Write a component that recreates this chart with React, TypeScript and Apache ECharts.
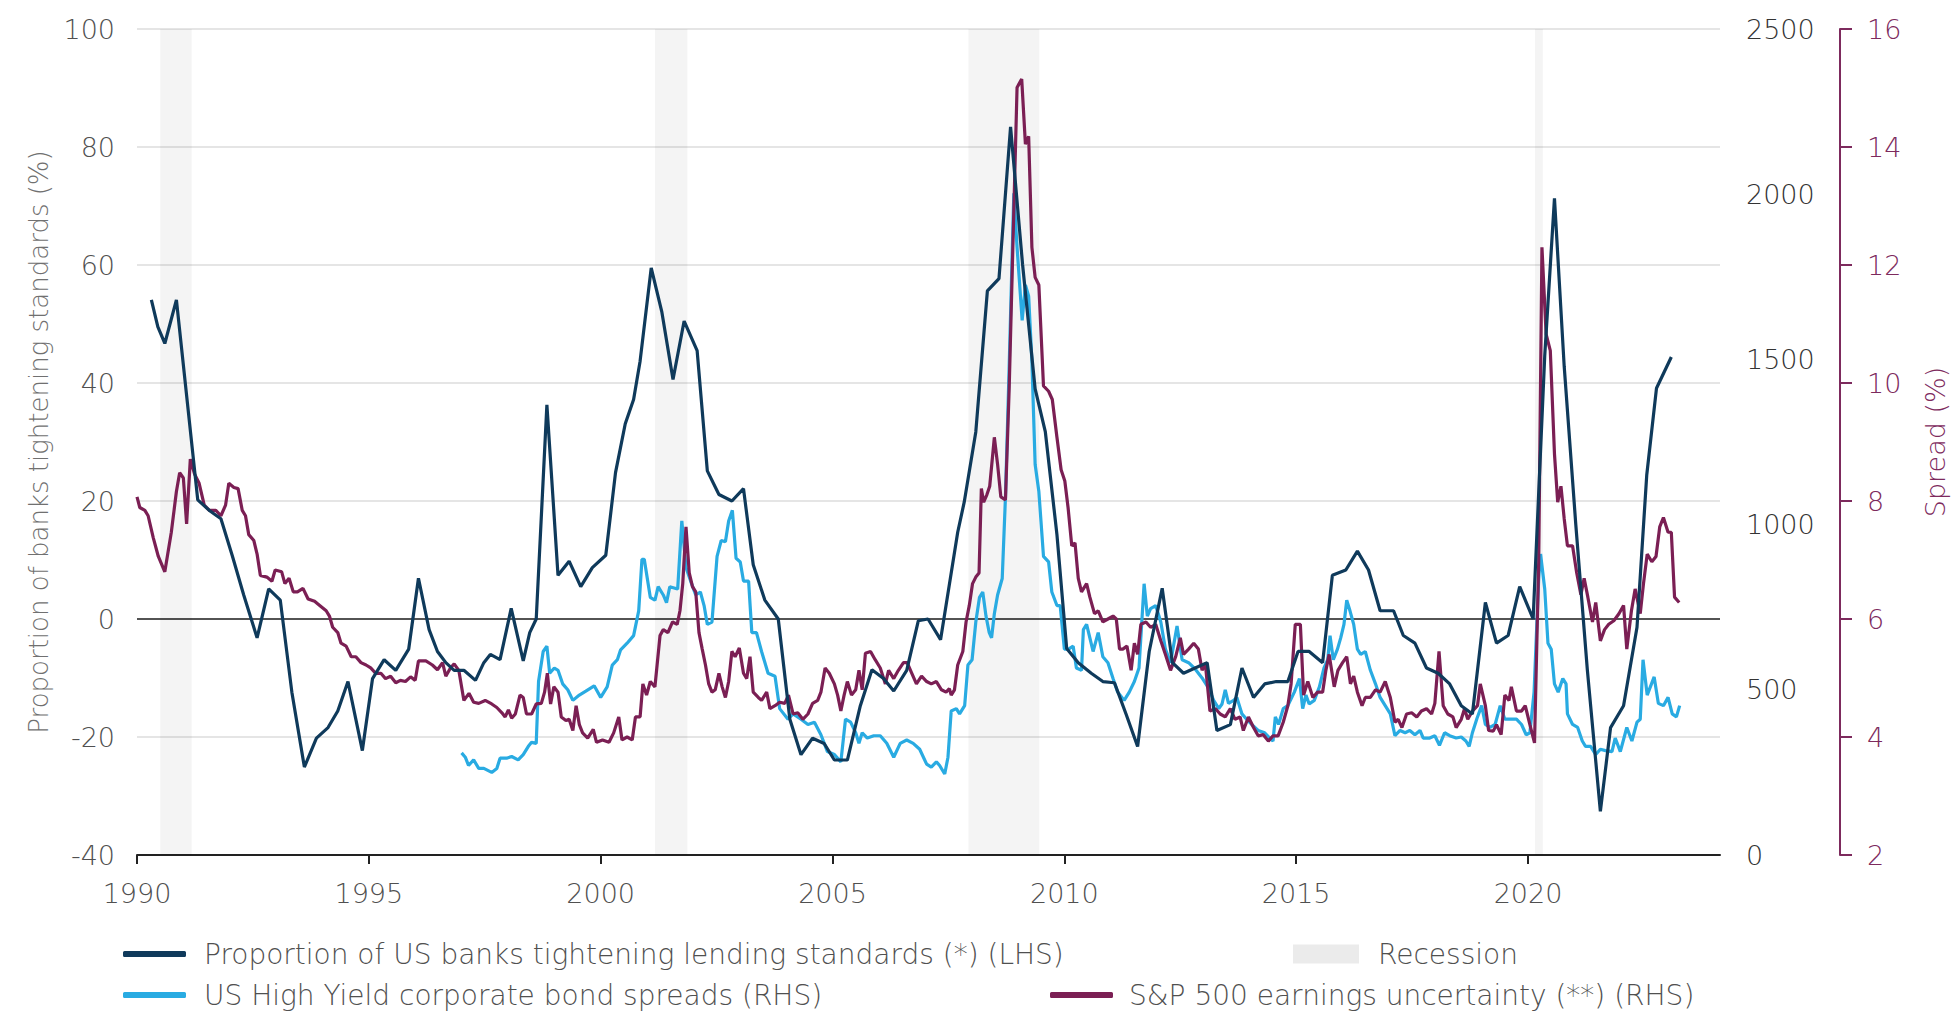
import React, { useEffect, useRef } from "react";
import * as echarts from "echarts";

const FONT = "'DejaVu Sans', 'Open Sans', sans-serif";

const xTicks = [1990, 1995, 2000, 2005, 2010, 2015, 2020];

const recessions: [number, number][] = [
  [1990.5, 1991.18],
  [2001.17, 2001.87],
  [2007.93, 2009.46],
  [2020.15, 2020.32],
];

// Proportion of US banks tightening lending standards (%), [year, value]
const bankPoints: [number, number][] = [
  [1990.31, 54.1], [1990.45, 49.5], [1990.6, 46.7], [1990.85, 54.1], [1991.31, 20.2], [1991.56, 18.4],
  [1991.81, 17.0], [1992.06, 10.6], [1992.3, 4.1], [1992.59, -3.2], [1992.84, 5.1], [1993.09, 3.2],
  [1993.34, -12.4], [1993.61, -25.1], [1993.87, -20.2], [1994.12, -18.4], [1994.33, -15.6], [1994.55, -10.6],
  [1994.86, -22.3], [1995.08, -10.1], [1995.33, -6.9], [1995.58, -8.7], [1995.86, -5.1], [1996.07, 6.9],
  [1996.3, -1.8], [1996.48, -5.5], [1996.66, -7.4], [1996.84, -8.7], [1997.05, -8.7], [1997.3, -10.4],
  [1997.48, -7.4], [1997.62, -6.0], [1997.83, -6.9], [1998.07, 1.8], [1998.33, -7.1], [1998.47, -2.3],
  [1998.61, 0], [1998.84, 36.3], [1999.08, 7.4], [1999.32, 9.8], [1999.57, 5.5], [1999.82, 8.7],
  [2000.11, 10.8], [2000.32, 24.8], [2000.53, 33.1], [2000.71, 37.2], [2000.85, 43.7], [2001.09, 59.5],
  [2001.32, 52.0], [2001.56, 40.6], [2001.8, 50.5], [2002.08, 45.5], [2002.3, 25.1], [2002.55, 21.1],
  [2002.83, 20.0], [2003.08, 22.1], [2003.29, 9.2], [2003.54, 3.2], [2003.83, 0], [2004.08, -17],
  [2004.32, -23], [2004.57, -20.2], [2004.82, -21.1], [2005.04, -23.9], [2005.32, -23.9], [2005.6, -14.7],
  [2005.85, -8.6], [2006.1, -10.1], [2006.32, -12.2], [2006.6, -8.7], [2006.85, -0.3], [2007.06, 0],
  [2007.33, -3.5], [2007.7, 14.7], [2007.84, 19.8], [2008.09, 31.7], [2008.34, 55.6], [2008.59, 57.7],
  [2008.84, 83.4], [2009.1, 60], [2009.37, 39], [2009.59, 31.7], [2009.84, 14.3], [2010.05, -5],
  [2010.3, -7.4], [2010.58, -9.2], [2010.83, -10.6], [2011.08, -10.8], [2011.33, -16.1], [2011.58, -21.6],
  [2011.83, -5.5], [2012.11, 5.2], [2012.33, -7.4], [2012.57, -9.2], [2012.82, -8.3], [2013.08, -7.4],
  [2013.29, -18.9], [2013.58, -17.9], [2013.83, -8.3], [2014.08, -13.3], [2014.32, -11], [2014.57, -10.6],
  [2014.82, -10.6], [2015.04, -5.5], [2015.28, -5.5], [2015.57, -7.4], [2015.78, 7.4], [2016.07, 8.3],
  [2016.32, 11.5], [2016.56, 8.3], [2016.81, 1.4], [2017.1, 1.4], [2017.31, -2.8], [2017.56, -4.1],
  [2017.81, -8.3], [2018.06, -9.2], [2018.31, -11], [2018.56, -14.7], [2018.8, -16.1], [2019.08, 2.8],
  [2019.32, -4.1], [2019.57, -2.8], [2019.82, 5.5], [2020.11, 0], [2020.36, 44.6], [2020.57, 71.3],
  [2020.78, 42.8], [2021.03, 16], [2021.28, -8.7], [2021.56, -32.6], [2021.78, -18.4], [2022.06, -14.7],
  [2022.35, -1.4], [2022.56, 24.4], [2022.77, 39.1], [2023.09, 44.4],
];

// US High Yield corporate bond spreads (bps), [year, value]
const hyPoints: [number, number][] = [
  [1997.0, 309], [1997.08, 296], [1997.15, 271], [1997.26, 288], [1997.37, 262], [1997.48, 262],
  [1997.65, 250], [1997.76, 262], [1997.83, 293], [1997.97, 293], [1998.08, 298], [1998.22, 288],
  [1998.33, 304], [1998.44, 329], [1998.51, 341], [1998.61, 338], [1998.66, 525], [1998.76, 616],
  [1998.84, 632], [1998.9, 550], [1999.0, 566], [1999.08, 559], [1999.18, 518], [1999.29, 500],
  [1999.4, 468], [1999.54, 484], [1999.68, 496], [1999.86, 512], [2000.0, 477], [2000.14, 509],
  [2000.25, 575], [2000.36, 591], [2000.43, 621], [2000.57, 641], [2000.71, 664], [2000.82, 739],
  [2000.89, 895], [2000.94, 895], [2001.07, 780], [2001.17, 771], [2001.24, 812], [2001.35, 787],
  [2001.42, 764], [2001.49, 812], [2001.66, 805], [2001.75, 1011], [2001.84, 870], [2001.94, 829],
  [2002.05, 787], [2002.15, 796], [2002.23, 755], [2002.3, 698], [2002.4, 705], [2002.51, 904],
  [2002.6, 952], [2002.69, 948], [2002.76, 1011], [2002.84, 1043], [2002.92, 898], [2003.01, 887],
  [2003.08, 829], [2003.19, 829], [2003.26, 673], [2003.36, 673], [2003.47, 616], [2003.61, 550],
  [2003.76, 541], [2003.86, 443], [2004.04, 411], [2004.15, 427], [2004.32, 411], [2004.47, 395],
  [2004.61, 402], [2004.75, 364], [2004.89, 313], [2005.04, 304], [2005.18, 282], [2005.28, 411],
  [2005.39, 402], [2005.5, 370], [2005.57, 338], [2005.64, 370], [2005.75, 354], [2005.89, 361],
  [2006.03, 361], [2006.17, 338], [2006.32, 296], [2006.46, 338], [2006.6, 348], [2006.74, 338],
  [2006.88, 320], [2007.03, 275], [2007.13, 266], [2007.24, 282], [2007.31, 271], [2007.42, 245],
  [2007.49, 296], [2007.56, 436], [2007.67, 443], [2007.74, 427], [2007.85, 452], [2007.92, 575],
  [2008.01, 591], [2008.09, 705], [2008.17, 780], [2008.24, 796], [2008.31, 723], [2008.38, 673],
  [2008.43, 657], [2008.49, 730], [2008.56, 787], [2008.66, 837], [2008.73, 1084], [2008.81, 1479],
  [2008.91, 2003], [2008.98, 1839], [2009.09, 1618], [2009.16, 1725], [2009.23, 1691], [2009.3, 1495],
  [2009.37, 1182], [2009.45, 1100], [2009.55, 904], [2009.66, 887], [2009.73, 796], [2009.84, 755],
  [2009.91, 755], [2010.0, 623], [2010.09, 623], [2010.19, 632], [2010.26, 566], [2010.37, 559],
  [2010.41, 682], [2010.48, 698], [2010.55, 657], [2010.62, 616], [2010.73, 673], [2010.83, 600],
  [2010.94, 582], [2011.05, 534], [2011.15, 493], [2011.29, 468], [2011.4, 493], [2011.51, 525],
  [2011.61, 566], [2011.72, 821], [2011.79, 723], [2011.86, 746], [2011.97, 755], [2012.08, 705],
  [2012.18, 623], [2012.29, 582], [2012.43, 693], [2012.54, 591], [2012.68, 582], [2012.82, 563],
  [2012.97, 536], [2013.11, 505], [2013.22, 468], [2013.33, 443], [2013.4, 457], [2013.47, 500],
  [2013.54, 459], [2013.65, 468], [2013.72, 477], [2013.83, 427], [2013.93, 411], [2014.04, 395],
  [2014.18, 377], [2014.32, 370], [2014.43, 354], [2014.5, 345], [2014.55, 418], [2014.62, 395],
  [2014.72, 443], [2014.82, 452], [2014.96, 493], [2015.07, 534], [2015.14, 443], [2015.21, 484],
  [2015.28, 457], [2015.39, 468], [2015.5, 509], [2015.6, 566], [2015.68, 591], [2015.73, 664],
  [2015.8, 591], [2015.89, 623], [2015.96, 657], [2016.03, 698], [2016.09, 771], [2016.16, 739],
  [2016.24, 698], [2016.32, 623], [2016.39, 607], [2016.49, 616], [2016.6, 559], [2016.71, 518],
  [2016.81, 477], [2016.92, 452], [2017.03, 427], [2017.13, 361], [2017.24, 377], [2017.35, 370],
  [2017.45, 377], [2017.56, 364], [2017.67, 377], [2017.74, 354], [2017.88, 354], [2017.99, 361],
  [2018.09, 332], [2018.2, 370], [2018.31, 361], [2018.45, 354], [2018.56, 357], [2018.66, 345],
  [2018.73, 329], [2018.8, 370], [2018.9, 414], [2019.0, 452], [2019.08, 395], [2019.18, 386],
  [2019.29, 395], [2019.4, 452], [2019.5, 411], [2019.61, 411], [2019.75, 411], [2019.86, 395],
  [2019.96, 364], [2020.04, 370], [2020.13, 493], [2020.23, 837], [2020.27, 911], [2020.36, 805],
  [2020.43, 641], [2020.5, 623], [2020.57, 518], [2020.65, 493], [2020.75, 534], [2020.82, 518],
  [2020.85, 427], [2020.96, 395], [2021.07, 386], [2021.17, 345], [2021.24, 329], [2021.35, 329],
  [2021.46, 304], [2021.56, 320], [2021.67, 316], [2021.81, 313], [2021.88, 354], [2021.99, 313],
  [2022.13, 386], [2022.24, 345], [2022.35, 402], [2022.42, 411], [2022.48, 591], [2022.57, 484],
  [2022.72, 539], [2022.81, 459], [2022.92, 452], [2023.02, 477], [2023.11, 427], [2023.2, 418],
  [2023.27, 452],
];

// S&P 500 earnings uncertainty (%), [year, value]
const spxPoints: [number, number][] = [
  [1990.0, 8.07], [1990.06, 7.89], [1990.17, 7.84], [1990.24, 7.75], [1990.35, 7.38], [1990.46, 7.06],
  [1990.6, 6.8], [1990.74, 7.47], [1990.85, 8.16], [1990.92, 8.48], [1991.0, 8.39], [1991.07, 7.61],
  [1991.15, 8.71], [1991.24, 8.46], [1991.34, 8.3], [1991.45, 7.93], [1991.56, 7.84], [1991.7, 7.84],
  [1991.81, 7.75], [1991.91, 7.93], [1991.98, 8.3], [1992.09, 8.23], [1992.18, 8.21], [1992.27, 7.84],
  [1992.34, 7.75], [1992.41, 7.43], [1992.52, 7.33], [1992.59, 7.1], [1992.66, 6.74], [1992.8, 6.71],
  [1992.91, 6.64], [1992.98, 6.83], [1993.12, 6.8], [1993.19, 6.6], [1993.28, 6.69], [1993.37, 6.46],
  [1993.46, 6.46], [1993.58, 6.52], [1993.69, 6.34], [1993.83, 6.3], [1993.94, 6.23], [1994.08, 6.14],
  [1994.15, 6.05], [1994.22, 5.86], [1994.33, 5.77], [1994.4, 5.59], [1994.51, 5.54], [1994.62, 5.36],
  [1994.72, 5.36], [1994.83, 5.26], [1994.94, 5.22], [1995.04, 5.17], [1995.15, 5.08], [1995.26, 5.08],
  [1995.36, 4.99], [1995.47, 5.03], [1995.58, 4.92], [1995.68, 4.96], [1995.79, 4.94], [1995.9, 5.02],
  [1996.0, 4.96], [1996.07, 5.29], [1996.23, 5.29], [1996.37, 5.22], [1996.48, 5.14], [1996.59, 5.26],
  [1996.66, 5.03], [1996.76, 5.17], [1996.84, 5.24], [1996.94, 5.13], [1997.05, 4.62], [1997.16, 4.74],
  [1997.26, 4.59], [1997.37, 4.57], [1997.51, 4.62], [1997.65, 4.56], [1997.76, 4.5], [1997.87, 4.41],
  [1997.94, 4.34], [1998.01, 4.46], [1998.08, 4.32], [1998.16, 4.39], [1998.26, 4.71], [1998.33, 4.67],
  [1998.4, 4.39], [1998.51, 4.39], [1998.61, 4.56], [1998.72, 4.57], [1998.79, 4.76], [1998.85, 5.08],
  [1998.92, 4.56], [1998.99, 4.85], [1999.08, 4.76], [1999.15, 4.34], [1999.25, 4.28], [1999.32, 4.3],
  [1999.4, 4.11], [1999.47, 4.53], [1999.54, 4.21], [1999.61, 4.07], [1999.72, 3.98], [1999.84, 4.13],
  [1999.91, 3.91], [2000.04, 3.95], [2000.18, 3.91], [2000.28, 4.07], [2000.39, 4.34], [2000.46, 3.95],
  [2000.57, 4.0], [2000.68, 3.95], [2000.75, 4.34], [2000.85, 4.34], [2000.91, 4.9], [2000.99, 4.71],
  [2001.07, 4.94], [2001.17, 4.85], [2001.28, 5.72], [2001.35, 5.82], [2001.45, 5.77], [2001.55, 5.95],
  [2001.65, 5.91], [2001.71, 6.14], [2001.77, 6.6], [2001.84, 7.56], [2001.91, 6.78], [2001.98, 6.55],
  [2002.05, 6.46], [2002.12, 5.77], [2002.19, 5.49], [2002.26, 5.22], [2002.33, 4.9], [2002.4, 4.76],
  [2002.47, 4.8], [2002.55, 5.08], [2002.62, 4.85], [2002.69, 4.67], [2002.76, 4.94], [2002.83, 5.45],
  [2002.9, 5.36], [2002.99, 5.51], [2003.08, 5.08], [2003.15, 4.99], [2003.22, 5.36], [2003.29, 4.76],
  [2003.4, 4.67], [2003.47, 4.62], [2003.58, 4.76], [2003.65, 4.48], [2003.76, 4.53], [2003.86, 4.59],
  [2003.97, 4.57], [2004.05, 4.71], [2004.15, 4.39], [2004.25, 4.41], [2004.36, 4.3], [2004.47, 4.39],
  [2004.57, 4.57], [2004.68, 4.62], [2004.75, 4.76], [2004.84, 5.17], [2004.93, 5.08], [2005.04, 4.9],
  [2005.11, 4.71], [2005.18, 4.44], [2005.25, 4.71], [2005.32, 4.94], [2005.41, 4.71], [2005.5, 4.8],
  [2005.57, 5.13], [2005.64, 4.8], [2005.71, 5.42], [2005.82, 5.45], [2005.92, 5.31], [2006.03, 5.17],
  [2006.14, 4.9], [2006.21, 5.13], [2006.32, 4.99], [2006.42, 5.13], [2006.53, 5.26], [2006.61, 5.26],
  [2006.71, 5.08], [2006.81, 4.9], [2006.92, 5.03], [2007.03, 4.94], [2007.13, 4.9], [2007.24, 4.94],
  [2007.35, 4.8], [2007.45, 4.76], [2007.52, 4.82], [2007.56, 4.71], [2007.63, 4.8], [2007.7, 5.22],
  [2007.81, 5.45], [2007.88, 5.95], [2007.95, 6.23], [2008.02, 6.6], [2008.09, 6.71], [2008.16, 6.78],
  [2008.21, 8.21], [2008.26, 7.98], [2008.33, 8.11], [2008.39, 8.25], [2008.49, 9.08], [2008.56, 8.62],
  [2008.63, 8.07], [2008.73, 8.02], [2008.81, 9.91], [2008.88, 12.02], [2008.98, 15.01], [2009.08, 15.15],
  [2009.16, 14.05], [2009.23, 14.18], [2009.3, 12.3], [2009.37, 11.79], [2009.45, 11.66], [2009.55, 9.95],
  [2009.66, 9.86], [2009.74, 9.72], [2009.84, 9.08], [2009.93, 8.53], [2010.01, 8.34], [2010.08, 7.89],
  [2010.16, 7.24], [2010.23, 7.29], [2010.3, 6.69], [2010.37, 6.46], [2010.48, 6.6], [2010.55, 6.37],
  [2010.65, 6.09], [2010.73, 6.14], [2010.83, 5.95], [2010.94, 6.0], [2011.05, 6.05], [2011.12, 6.0],
  [2011.19, 5.49], [2011.26, 5.49], [2011.35, 5.54], [2011.44, 5.13], [2011.51, 5.59], [2011.58, 5.4],
  [2011.65, 5.91], [2011.76, 5.95], [2011.86, 5.86], [2011.97, 5.91], [2012.08, 5.63], [2012.18, 5.4],
  [2012.29, 5.13], [2012.4, 5.36], [2012.5, 5.68], [2012.57, 5.4], [2012.68, 5.49], [2012.79, 5.59],
  [2012.89, 5.49], [2012.97, 5.13], [2013.04, 5.25], [2013.14, 4.44], [2013.26, 4.48], [2013.36, 4.39],
  [2013.47, 4.34], [2013.58, 4.48], [2013.68, 4.3], [2013.79, 4.34], [2013.86, 4.11], [2013.97, 4.34],
  [2014.08, 4.16], [2014.18, 4.02], [2014.29, 4.04], [2014.4, 3.93], [2014.5, 4.02], [2014.61, 4.02],
  [2014.72, 4.25], [2014.82, 4.53], [2014.89, 4.9], [2014.98, 5.91], [2015.09, 5.91], [2015.16, 4.71],
  [2015.25, 4.94], [2015.36, 4.67], [2015.46, 4.76], [2015.57, 4.76], [2015.64, 5.13], [2015.71, 5.4],
  [2015.82, 4.85], [2015.9, 5.13], [2016.0, 5.26], [2016.09, 5.36], [2016.17, 4.9], [2016.24, 5.03],
  [2016.32, 4.76], [2016.42, 4.53], [2016.49, 4.67], [2016.6, 4.67], [2016.71, 4.8], [2016.81, 4.76],
  [2016.92, 4.94], [2017.03, 4.67], [2017.13, 4.25], [2017.2, 4.3], [2017.28, 4.16], [2017.38, 4.39],
  [2017.49, 4.41], [2017.6, 4.34], [2017.7, 4.44], [2017.81, 4.48], [2017.92, 4.39], [2017.99, 4.57],
  [2018.08, 5.45], [2018.17, 4.53], [2018.27, 4.39], [2018.38, 4.34], [2018.45, 4.16], [2018.56, 4.3],
  [2018.63, 4.48], [2018.7, 4.3], [2018.8, 4.44], [2018.91, 4.53], [2018.97, 4.9], [2019.08, 4.53],
  [2019.15, 4.11], [2019.25, 4.1], [2019.32, 4.21], [2019.42, 4.04], [2019.5, 4.71], [2019.59, 4.62],
  [2019.64, 4.85], [2019.75, 4.44], [2019.86, 4.44], [2019.94, 4.53], [2020.04, 4.21], [2020.14, 3.9],
  [2020.23, 6.97], [2020.3, 12.3], [2020.39, 10.83], [2020.48, 10.55], [2020.57, 8.8], [2020.64, 7.98],
  [2020.71, 8.25], [2020.78, 7.7], [2020.85, 7.24], [2020.96, 7.24], [2021.05, 6.78], [2021.14, 6.41],
  [2021.21, 6.69], [2021.29, 6.37], [2021.39, 5.95], [2021.46, 6.28], [2021.56, 5.63], [2021.65, 5.82],
  [2021.74, 5.91], [2021.85, 5.97], [2021.96, 6.09], [2022.06, 6.23], [2022.13, 5.49], [2022.23, 6.14],
  [2022.31, 6.51], [2022.42, 6.09], [2022.49, 6.6], [2022.57, 7.1], [2022.67, 6.97], [2022.76, 7.06],
  [2022.84, 7.56], [2022.92, 7.72], [2023.02, 7.47], [2023.09, 7.47], [2023.16, 6.37], [2023.26, 6.28],
];

const NAME_BANKS = "Proportion of US banks tightening lending standards (*) (LHS)";
const NAME_HY = "US High Yield corporate bond spreads (RHS)";
const NAME_SPX = "S&P 500 earnings uncertainty (**) (RHS)";
const NAME_REC = "Recession";

const C_NAVY = "#0f3a5b";
const C_BLUE = "#29abe2";
const C_MAROON = "#7b1f54";
const C_AXIS2 = "#7d2a5d";

export default function App() {
  const ref = useRef<HTMLDivElement>(null);

  useEffect(() => {
    document.documentElement.style.overflow = "hidden";
    document.body.style.overflow = "hidden";
    document.body.style.margin = "0";
    if (!ref.current) return;
    const chart = echarts.init(ref.current, undefined, { renderer: "svg", width: 1957, height: 1013 });

    const baseText = { fontFamily: FONT, fontWeight: 200 as any, fontSize: 27 };
    const legendText = { ...baseText, fontSize: 28, color: "#505050", lineHeight: 32 };

    chart.setOption({
      animation: false,
      backgroundColor: "#ffffff",
      grid: { left: 137, right: 220, top: 29, bottom: 158, containLabel: false },
      legend: [
        {
          data: [{ name: NAME_BANKS, icon: "roundRect" }],
          left: 118, top: 933, itemWidth: 63, itemHeight: 6, selectedMode: false,
          textStyle: { ...legendText, padding: [0, 0, 0, 13] },
        },
        {
          data: [{ name: NAME_REC, icon: "rect", itemStyle: { color: "#ebebeb" } }],
          left: 1288, top: 933, itemWidth: 66, itemHeight: 19, selectedMode: false,
          textStyle: { ...legendText, padding: [0, 0, 0, 14] },
        },
        {
          data: [{ name: NAME_HY, icon: "roundRect" }],
          left: 118, top: 974, itemWidth: 63, itemHeight: 6, selectedMode: false,
          textStyle: { ...legendText, padding: [0, 0, 0, 13] },
        },
        {
          data: [{ name: NAME_SPX, icon: "roundRect" }],
          left: 1045, top: 974, itemWidth: 63, itemHeight: 6, selectedMode: false,
          textStyle: { ...legendText, padding: [0, 0, 0, 11] },
        },
      ],
      xAxis: {
        type: "value",
        min: 1990,
        max: 2024.14,
        interval: 5,
        axisLine: { show: true, onZero: false, lineStyle: { color: "#222", width: 2 } },
        axisTick: { show: true, length: 9, customValues: xTicks, lineStyle: { color: "#222", width: 2 } },
        axisLabel: { ...baseText, color: "#505050", margin: 25, customValues: xTicks, formatter: (v: number) => String(v) },
        splitLine: { show: false },
      },
      yAxis: [
        {
          type: "value",
          position: "left",
          min: -40,
          max: 100,
          interval: 20,
          name: "Proportion of banks tightening standards (%)",
          nameLocation: "middle",
          nameRotate: 90,
          nameGap: 85,
          nameTextStyle: { ...baseText, fontSize: 26, color: "#707070" },
          axisLine: { show: false },
          axisTick: { show: false },
          axisLabel: { ...baseText, color: "#505050", margin: 22, formatter: (v: number) => String(v) },
          splitLine: {
            show: true,
            lineStyle: {
              width: 1.5,
              color: ["#dcdcdc", "#dcdcdc", "#1a1a1a", "#dcdcdc", "#dcdcdc", "#dcdcdc", "#dcdcdc", "#dcdcdc"],
            },
          },
        },
        {
          type: "value",
          position: "right",
          min: 0,
          max: 2500,
          interval: 500,
          axisLine: { show: false },
          axisTick: { show: false },
          axisLabel: { ...baseText, color: "#333", margin: 26, formatter: (v: number) => String(v) },
          splitLine: { show: false },
        },
        {
          type: "value",
          position: "right",
          offset: 120,
          min: 2,
          max: 16,
          interval: 2,
          name: "Spread (%)",
          nameLocation: "middle",
          nameRotate: 90,
          nameGap: 82,
          nameTextStyle: { ...baseText, color: C_AXIS2 },
          axisLine: { show: true, lineStyle: { color: C_AXIS2, width: 2 } },
          axisTick: { show: true, length: 12, lineStyle: { color: C_AXIS2, width: 2 } },
          axisLabel: { ...baseText, color: C_AXIS2, margin: 27, formatter: (v: number) => String(v) },
          splitLine: { show: false },
        },
      ],
      series: [
        {
          name: NAME_REC,
          type: "line",
          data: [],
          color: "#ebebeb",
        },
        {
          name: NAME_HY,
          type: "line",
          yAxisIndex: 1,
          data: hyPoints,
          symbol: "none",
          color: C_BLUE,
          lineStyle: { width: 3.2, color: C_BLUE },
          z: 3,
        },
        {
          name: NAME_SPX,
          type: "line",
          yAxisIndex: 2,
          data: spxPoints,
          symbol: "none",
          color: C_MAROON,
          lineStyle: { width: 3.2, color: C_MAROON },
          z: 4,
        },
        {
          name: NAME_BANKS,
          type: "line",
          yAxisIndex: 0,
          data: bankPoints,
          symbol: "none",
          color: C_NAVY,
          lineStyle: { width: 3.2, color: C_NAVY },
          z: 5,
          markArea: {
            silent: true,
            itemStyle: { color: "rgba(0,0,0,0.045)" },
            data: recessions.map(([a, b]) => [{ xAxis: a }, { xAxis: b }]),
          },
        },
      ],
    });

    return () => chart.dispose();
  }, []);

  return (
    <div
      ref={ref}
      style={{ position: "fixed", left: 0, top: 0, width: 1957, height: 1013, background: "#fff" }}
    />
  );
}
